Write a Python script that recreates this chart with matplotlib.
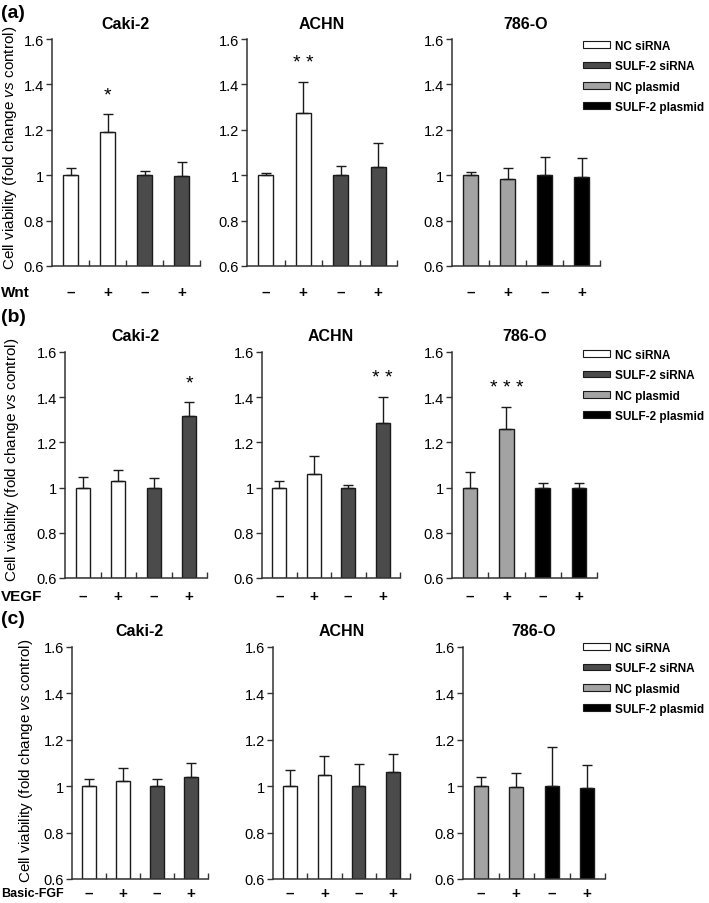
import matplotlib
matplotlib.use('Agg')
import matplotlib.pyplot as plt
from matplotlib.patches import Patch
import numpy as np

plt.rcParams['font.family'] = 'Liberation Sans'
plt.rcParams['mathtext.fontset'] = 'custom'
plt.rcParams['mathtext.rm'] = 'Liberation Sans'
plt.rcParams['mathtext.it'] = 'Liberation Sans:italic'

W, H = 709, 904

cells = ['Caki-2', 'ACHN', '786-O']
signs = ['–', '+', '–', '+']
groups = ['NC siRNA', 'SULF-2 siRNA', 'NC plasmid', 'SULF-2 plasmid']
group_colors = ['white', '#4b4b4b', '#a3a3a3', 'black']
# which legend group each bar belongs to, per cell line
bar_groups = [[0, 0, 1, 1], [0, 0, 1, 1], [2, 2, 3, 3]]

# means / upper SD, order Caki-2, ACHN, 786-O
wnt_mean = [[1.00, 1.19, 1.00, 0.997], [1.00, 1.275, 1.00, 1.035], [1.00, 0.985, 1.00, 0.99]]
wnt_err = [[0.03, 0.08, 0.02, 0.06], [0.008, 0.135, 0.04, 0.105], [0.015, 0.045, 0.078, 0.085]]
wnt_stars = ['*', '* *', '']
wnt_star_bar = [1, 1, None]

vegf_mean = [[1.00, 1.03, 1.00, 1.317], [1.00, 1.062, 1.00, 1.285], [1.00, 1.26, 1.00, 0.997]]
vegf_err = [[0.049, 0.05, 0.044, 0.061], [0.028, 0.077, 0.012, 0.118], [0.07, 0.097, 0.022, 0.025]]
vegf_stars = ['*', '* *', '* * *']
vegf_star_bar = [3, 3, 1]

fgf_mean = [[1.00, 1.024, 1.00, 1.039], [1.00, 1.049, 1.00, 1.06], [1.00, 0.996, 1.00, 0.993]]
fgf_err = [[0.029, 0.054, 0.032, 0.061], [0.068, 0.083, 0.094, 0.077], [0.039, 0.06, 0.168, 0.099]]
fgf_stars = ['', '', '']
fgf_star_bar = [None, None, None]

yticks = [0.6, 0.8, 1.0, 1.2, 1.4, 1.6]
ylabel = 'Cell viability (fold change $\\it{vs}$ control)'

# page layout in pixels
rows = [
    dict(treat='Wnt', tsize=11, letter='(a)', top=40, bottom=267, cols=[(52, 200), (247, 397), (452, 600)],
         lab_y=293, letter_y=14, ylab_x=10, ylab_y=148, leg_y=41,
         mean=wnt_mean, err=wnt_err, stars=wnt_stars, star_bar=wnt_star_bar),
    dict(treat='VEGF', tsize=11, letter='(b)', top=353, bottom=579, cols=[(65, 207), (262, 400), (452, 597)],
         lab_y=597, letter_y=318, ylab_x=12, ylab_y=460, leg_y=350,
         mean=vegf_mean, err=vegf_err, stars=vegf_stars, star_bar=vegf_star_bar),
    dict(treat='Basic-FGF', tsize=9, letter='(c)', top=648, bottom=880, cols=[(72, 208), (273, 410), (463, 605)],
         lab_y=894, letter_y=620, ylab_x=26, ylab_y=761, leg_y=643,
         mean=fgf_mean, err=fgf_err, stars=fgf_stars, star_bar=fgf_star_bar),
]

fig = plt.figure(figsize=(W / 100, H / 100), dpi=100)
pt = 72 / 100  # points per pixel

x = np.arange(4)
for r in rows:
    for c, (l, rr) in enumerate(r['cols']):
        ax = fig.add_axes([l / W, 1 - r['bottom'] / H, (rr - l) / W, (r['bottom'] - r['top']) / H])
        m = np.array(r['mean'][c])
        e = np.array(r['err'][c])
        cols = [group_colors[g] for g in bar_groups[c]]
        ax.bar(x, m - 0.6, bottom=0.6, width=0.4, color=cols, edgecolor='#1a1a1a', linewidth=1, zorder=2)
        ax.errorbar(x, m, yerr=[np.zeros(4), e], fmt='none', ecolor='#1a1a1a',
                    elinewidth=1, capsize=3.5, capthick=1, zorder=3)
        if r['star_bar'][c] is not None:
            b = r['star_bar'][c]
            ax.text(b, m[b] + e[b] + 0.085, r['stars'][c], ha='center', va='center', fontsize=14)
        ax.set_xlim(-0.5, 3.5)
        ax.set_ylim(0.6, 1.6)
        ax.set_yticks(yticks)
        ax.set_yticklabels(['%g' % v for v in yticks])
        ax.tick_params(axis='y', direction='out', length=4, width=1, pad=2, labelsize=10.5, color='#333333')
        ax.set_xticks([0.5, 1.5, 2.5, 3.5])
        ax.set_xticklabels([])
        ax.tick_params(axis='x', direction='in', length=4, width=1, color='#333333')
        for s in ['top', 'right']:
            ax.spines[s].set_visible(False)
        for s in ['left', 'bottom']:
            ax.spines[s].set_color('#333333')
            ax.spines[s].set_linewidth(1.1)
        for i in range(4):
            ax.annotate(signs[i], (i, 0), xycoords=('data', 'axes fraction'),
                        xytext=(0, -(r['lab_y'] - r['bottom']) * pt), textcoords='offset points',
                        ha='center', va='center', fontsize=11, fontweight='bold')
        ax.annotate(cells[c], (0.5, 1), xycoords='axes fraction', xytext=(0, 16 * pt),
                    textcoords='offset points', ha='center', va='center', fontsize=11.5, fontweight='bold')
    fig.text(1 / W, 1 - r['lab_y'] / H, r['treat'], ha='left', va='center', fontsize=r['tsize'], fontweight='bold')
    fig.text(1 / W, 1 - r['letter_y'] / H, r['letter'], ha='left', va='center', fontsize=14, fontweight='bold')
    fig.text(r['ylab_x'] / W, 1 - r['ylab_y'] / H, ylabel, rotation=90, ha='center', va='center', fontsize=11)
    handles = [Patch(facecolor=group_colors[g], edgecolor='#1a1a1a', linewidth=0.8) for g in range(4)]
    fig.legend(handles, groups, loc='upper left', bbox_to_anchor=(583 / W, 1 - r['leg_y'] / H),
               frameon=False, prop={'weight': 'bold', 'size': 8.5}, handlelength=2.3,
               handleheight=0.5, handletextpad=0.45, labelspacing=0.7, borderpad=0, borderaxespad=0)

fig.savefig('out.png', dpi=100)
